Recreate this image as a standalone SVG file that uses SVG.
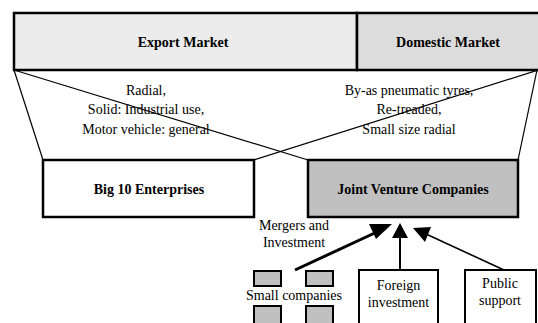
<svg xmlns="http://www.w3.org/2000/svg" width="538" height="323" viewBox="0 0 538 323">
  <style>
    .t { font-family: "Liberation Serif", "Times New Roman", serif; font-size: 14px; fill: #000; text-anchor: middle; }
    .b { font-weight: bold; }
    .box { stroke: #000; stroke-width: 2.5; }
    .thin { stroke: #000; stroke-width: 1.2; fill: none; }
    .sq { fill: #c0c0c0; stroke: #000; stroke-width: 2; }
  </style>
  <defs>
    <marker id="head" viewBox="0 0 10 10" refX="9" refY="5" markerWidth="10" markerHeight="10" markerUnits="userSpaceOnUse" orient="auto">
      <path d="M0,0 L10,5 L0,10 Z" fill="#000"/>
    </marker>
    <marker id="headL" viewBox="0 0 10 10" refX="9" refY="5" markerWidth="5" markerHeight="5" orient="auto">
      <path d="M0,0 L10,5 L0,10 Z" fill="#000"/>
    </marker>
  </defs>
  <rect width="538" height="323" fill="#fff"/>

  <!-- market bar -->
  <g id="export-market">
    <rect x="14" y="13" width="343" height="57" fill="#ececec" class="box" stroke-width="2"/>
    <text class="t b" x="183" y="47">Export Market</text>
  </g>
  <g id="domestic-market">
    <rect x="357" y="13" width="185" height="57" fill="#dcdcdc" class="box" stroke-width="2"/>
    <text class="t b" x="448" y="47">Domestic Market</text>
  </g>

  <!-- funnel lines from the market bar to the enterprise groups -->
  <g id="connectors">
    <line class="thin" x1="14" y1="70" x2="43" y2="160"/>
    <line class="thin" x1="14" y1="70" x2="308" y2="160"/>
    <line class="thin" x1="538" y1="70" x2="254" y2="160"/>
    <line class="thin" x1="537" y1="70" x2="518" y2="160"/>

    <!-- arrows into the joint venture box -->
    <line x1="295" y1="270" x2="379" y2="231" stroke="#000" stroke-width="3"/>
    <polygon points="392,224 376,239 369,224" fill="#000"/>
    <line x1="400" y1="270" x2="400" y2="236" stroke="#000" stroke-width="2"/>
    <polygon points="400,223 408,238 392,238" fill="#000"/>
    <line x1="504" y1="270" x2="426" y2="234" stroke="#000" stroke-width="1.6"/>
    <polygon points="413,228 431,227 425,242" fill="#000"/>
  </g>

  <g id="export-products">
    <text class="t" x="146" y="95">Radial,</text>
    <text class="t" x="146" y="114">Solid: Industrial use,</text>
    <text class="t" x="146" y="134">Motor vehicle: general</text>
  </g>
  <g id="domestic-products">
    <text class="t" x="409" y="95">By-as pneumatic tyres,</text>
    <text class="t" x="409" y="114">Re-treaded,</text>
    <text class="t" x="409" y="134">Small size radial</text>
  </g>

  <g id="big10">
    <rect x="43" y="160" width="211" height="57" fill="#fff" class="box"/>
    <text class="t b" x="149" y="194">Big 10 Enterprises</text>
  </g>
  <g id="joint-venture">
    <rect x="308" y="160" width="210" height="57" fill="#c0c0c0" class="box"/>
    <text class="t b" x="413" y="194">Joint Venture Companies</text>
  </g>

  <g id="mergers-label">
    <text class="t" x="294" y="230">Mergers and</text>
    <text class="t" x="294" y="247">Investment</text>
  </g>

  <g id="small-companies">
    <rect class="sq" x="254" y="271" width="27" height="15"/>
    <rect class="sq" x="306" y="271" width="27" height="15"/>
    <rect class="sq" x="254" y="306" width="27" height="20"/>
    <rect class="sq" x="306" y="306" width="27" height="20"/>
    <text class="t" x="294" y="300">Small companies</text>
  </g>

  <g id="foreign-investment">
    <rect x="359" y="270" width="79" height="60" fill="#fff" stroke="#000" stroke-width="2"/>
    <text class="t" x="398.5" y="290">Foreign</text>
    <text class="t" x="398.5" y="307">investment</text>
  </g>

  <g id="public-support">
    <rect x="465" y="270" width="71" height="60" fill="#fff" stroke="#000" stroke-width="2"/>
    <text class="t" x="500" y="288">Public</text>
    <text class="t" x="500" y="305">support</text>
  </g>
</svg>
